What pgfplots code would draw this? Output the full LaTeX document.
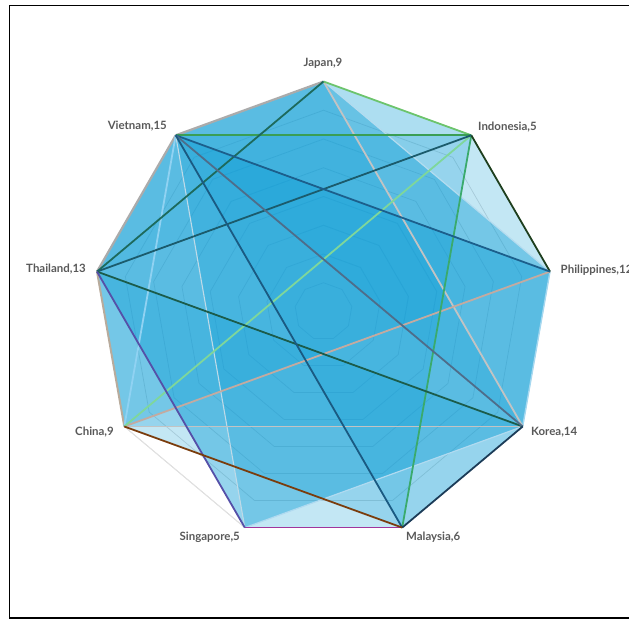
\documentclass[border=0pt]{standalone}
\usepackage{pgfplots}
\pgfplotsset{compat=1.18}
\usepackage{pgfplotstable}
\usepackage{fontspec}
\setmainfont{Lato}

\definecolor{areablue}{HTML}{0F9ED5}
\definecolor{gridgray}{HTML}{D9D9D9}
\definecolor{labelgray}{HTML}{595959}

\tikzset{
  area/.style={draw=none, fill=areablue, fill opacity=0.25},
  chord/.style={line width=1.8pt},
  lbl/.style={inner sep=0pt, text=labelgray, font=\bfseries\fontsize{11.5}{13}\selectfont},
}

% nonagon vertices, clockwise from Japan (radius 230)
\pgfplotstableread{
x y
0 230
147.8 176.2
226.5 39.9
199.2 -115.0
78.7 -216.1
-78.7 -216.1
-199.2 -115.0
-226.5 39.9
-147.8 176.2
0 230
}\ringtable

\begin{document}
\begin{tikzpicture}
\begin{axis}[
  scale only axis, width=629bp, height=619bp,
  xmin=-323.5, xmax=305.5, ymin=-307.5, ymax=311.5,
  hide axis, clip=false,
]
\coordinate (bl) at (rel axis cs:0,0);
\coordinate (tr) at (rel axis cs:1,1);

% radar grid rings
\pgfplotsinvokeforeach{1,...,8}{
  \addplot[gridgray, line width=0.7pt] table[x expr=\thisrow{x}*#1/8, y expr=\thisrow{y}*#1/8] {\ringtable};
}

% filled series
\addplot[area] coordinates {(0,230) (147.8,176.2) (226.5,39.9) (199.2,-115.0) (78.7,-216.1) (-78.7,-216.1) (-226.5,39.9) (-147.8,176.2)};
\addplot[area] coordinates {(0,230) (226.5,39.9) (199.2,-115.0) (78.7,-216.1) (-199.2,-115.0) (-226.5,39.9) (-147.8,176.2)};
\addplot[area] coordinates {(0,230) (226.5,39.9) (199.2,-115.0) (-78.7,-216.1) (-147.8,176.2)};
\addplot[area] coordinates {(0,230) (199.2,-115.0) (-199.2,-115.0) (-226.5,39.9) (-147.8,176.2)};
\addplot[area] coordinates {(-147.8,176.2) (226.5,39.9) (199.2,-115.0)};
\addplot[area] coordinates {(-147.8,176.2) (147.8,176.2) (78.7,-216.1)};
\addplot[area] coordinates {(-147.8,176.2) (226.5,39.9) (-199.2,-115.0) (-226.5,39.9)};
\addplot[area] coordinates {(-226.5,39.9) (199.2,-115.0) (-78.7,-216.1)};
\addplot[area, fill opacity=0.12] coordinates {(0,230) (147.8,176.2) (-226.5,39.9)};

% links
\addplot[color={rgb,255:red,171;green,171;blue,171}, line width=2.2pt] coordinates {(-147.8,176.2) (0,230)};
\addplot[color={rgb,255:red,171;green,171;blue,171}, line width=2.2pt] coordinates {(-226.5,39.9) (-147.8,176.2)};
\addplot[color={rgb,255:red,184;green,171;blue,156}, line width=2pt] coordinates {(-199.2,-115.0) (-226.5,39.9)};
\addplot[color={rgb,255:red,225;green,225;blue,225}, line width=1pt] coordinates {(-78.7,-216.1) (-199.2,-115.0)};
\addplot[color={rgb,255:red,166;green,216;blue,240}, line width=1.4pt] coordinates {(226.5,39.9) (199.2,-115.0)};
\addplot[color={rgb,255:red,180;green,220;blue,239}, line width=1.2pt] coordinates {(0,230) (226.5,39.9)};
\addplot[color={rgb,255:red,176;green,218;blue,240}, line width=1.2pt] coordinates {(-78.7,-216.1) (199.2,-115.0)};
\addplot[color={rgb,255:red,190;green,218;blue,232}, line width=1.1pt] coordinates {(-147.8,176.2) (-78.7,-216.1)};
\addplot[chord, color={rgb,255:red,144;green,210;blue,242}] coordinates {(-147.8,176.2) (-199.2,-115.0)};
\addplot[chord, color={rgb,255:red,195;green,195;blue,195}] coordinates {(0,230) (199.2,-115.0)};
\addplot[chord, color={rgb,255:red,195;green,195;blue,195}] coordinates {(-199.2,-115.0) (199.2,-115.0)};
\addplot[chord, color={rgb,255:red,196;green,170;blue,160}] coordinates {(226.5,39.9) (-199.2,-115.0)};
\addplot[chord, color={rgb,255:red,127;green,215;blue,154}] coordinates {(147.8,176.2) (-199.2,-115.0)};
\addplot[chord, color={rgb,255:red,108;green,196;blue,108}] coordinates {(0,230) (147.8,176.2)};
\addplot[chord, color={rgb,255:red,58;green,158;blue,85}] coordinates {(-147.8,176.2) (147.8,176.2)};
\addplot[chord, color={rgb,255:red,58;green,170;blue,108}] coordinates {(147.8,176.2) (78.7,-216.1)};
\addplot[chord, color={rgb,255:red,30;green,63;blue,30}] coordinates {(147.8,176.2) (226.5,39.9)};
\addplot[chord, color={rgb,255:red,29;green,106;blue,92}] coordinates {(0,230) (-226.5,39.9)};
\addplot[chord, color={rgb,255:red,27;green,91;blue,108}] coordinates {(147.8,176.2) (-226.5,39.9)};
\addplot[chord, color={rgb,255:red,27;green,92;blue,75}] coordinates {(-226.5,39.9) (199.2,-115.0)};
\addplot[chord, color={rgb,255:red,28;green,95;blue,140}] coordinates {(-147.8,176.2) (226.5,39.9)};
\addplot[chord, color={rgb,255:red,78;green,109;blue,138}] coordinates {(-147.8,176.2) (199.2,-115.0)};
\addplot[chord, color={rgb,255:red,26;green,90;blue,130}] coordinates {(-147.8,176.2) (78.7,-216.1)};
\addplot[chord, color={rgb,255:red,28;green,60;blue,88}] coordinates {(199.2,-115.0) (78.7,-216.1)};
\addplot[chord, color={rgb,255:red,161;green,53;blue,155}] coordinates {(78.7,-216.1) (-78.7,-216.1)};
\addplot[chord, color={rgb,255:red,85;green,80;blue,168}] coordinates {(-226.5,39.9) (-78.7,-216.1)};
\addplot[chord, color={rgb,255:red,122;green,60;blue,12}] coordinates {(-199.2,-115.0) (78.7,-216.1)};

% category labels
\node[lbl, anchor=center] at (axis cs:-0.5,248.5) {Japan,9};
\node[lbl, anchor=west] at (axis cs:154.5,184.5) {Indonesia,5};
\node[lbl, anchor=west] at (axis cs:237,41.5) {Philippines,12};
\node[lbl, anchor=west] at (axis cs:207.5,-120.5) {Korea,14};
\node[lbl, anchor=west] at (axis cs:82.5,-225.5) {Malaysia,6};
\node[lbl, anchor=east] at (axis cs:-83.5,-225.5) {Singapore,5};
\node[lbl, anchor=east] at (axis cs:-209.5,-120.5) {China,9};
\node[lbl, anchor=east] at (axis cs:-237.5,42.5) {Thailand,13};
\node[lbl, anchor=east] at (axis cs:-156.5,185.5) {Vietnam,15};

% chart frame
\draw[black, line width=1.5pt] (axis cs:-314,306) rectangle (axis cs:318,-306.5);
\end{axis}
\pgfresetboundingbox
\path[use as bounding box] (bl) rectangle (tr);
\end{tikzpicture}
\end{document}
